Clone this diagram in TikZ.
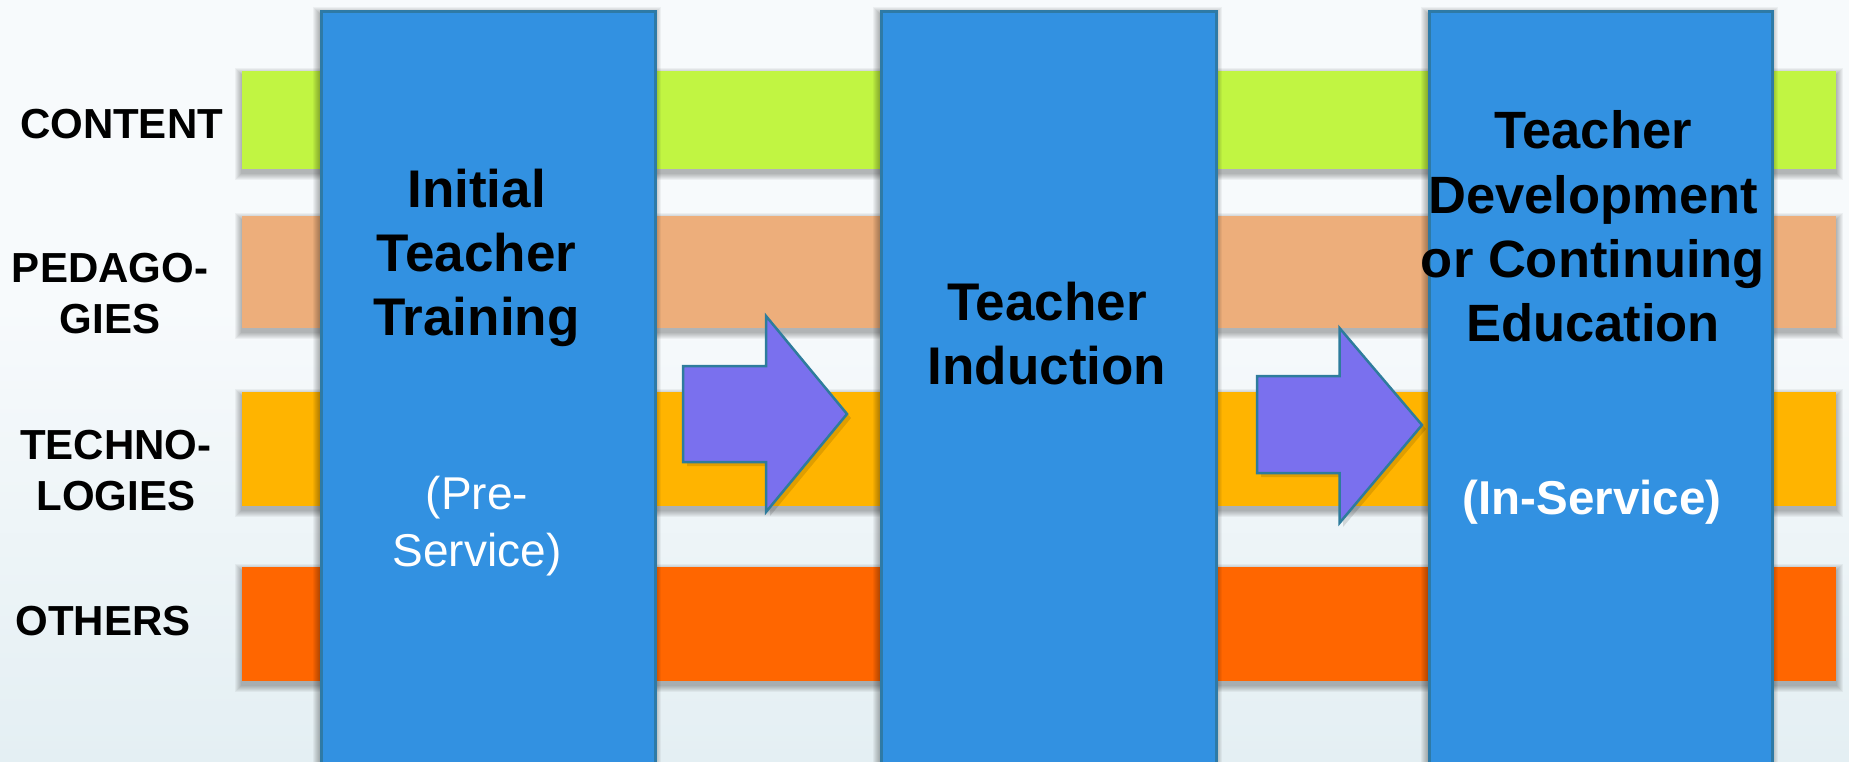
\documentclass[tikz,border=0pt]{standalone}
\usepackage{fontspec}
\setmainfont{Liberation Sans}
\definecolor{bgtop}{HTML}{F7FAFC}
\definecolor{bgmid}{HTML}{E4EFF3}
\definecolor{bgbot}{HTML}{BBDBE3}
\definecolor{cgreen}{HTML}{C1F542}
\definecolor{cpeach}{HTML}{EDAE7B}
\definecolor{cyellow}{HTML}{FFB400}
\definecolor{corange}{HTML}{FF6600}
\definecolor{cblue}{HTML}{3291E1}
\definecolor{cedge}{HTML}{2E7AA6}
\definecolor{carrow}{HTML}{7A70EE}
\definecolor{caedge}{HTML}{2E7C9C}
\pgfdeclareverticalshading{bgshade}{100bp}{color(0bp)=(bgbot); color(25bp)=(bgmid); color(55bp)=(bgtop); color(100bp)=(bgtop)}
\newcommand\softshadow[4]{%
  \foreach \k in {1,...,7}{\fill[black,opacity=0.045] ({#1-\k},{#2-\k+4}) rectangle ({#3+\k},{#4+\k+4});}}
\tikzset{
  band/.style={fill=#1, draw=none},
  phase/.style={fill=cblue, draw=cedge, line width=2.5pt, anchor=north west, inner sep=0pt},
  blockarrow/.style={fill=carrow, draw=caedge, line width=2.5pt, line join=miter},
  rowlabel/.style={anchor=north, inner sep=0pt, align=center, font=\fontsize{42}{50.5}\selectfont\bfseries},
  phasetitle/.style={anchor=north, inner sep=0pt, align=center, font=\fontsize{53}{63.8}\selectfont\bfseries},
  phasenote/.style={anchor=north, inner sep=0pt, align=center, text=white},
}
\begin{document}
\begin{tikzpicture}[x=1pt,y=-1pt]
\useasboundingbox (0,0) rectangle (1849,761);
\shade[shading=bgshade] (0,0) rectangle (1849,761);
% bands
\softshadow{242}{71}{1836}{169}
\softshadow{242}{216}{1836}{328}
\softshadow{242}{392}{1836}{506}
\softshadow{242}{567}{1836}{681}
\path[band=cgreen] (242,71) rectangle (1836,169);
\path[band=cpeach] (242,216) rectangle (1836,328);
\path[band=cyellow] (242,392) rectangle (1836,506);
\path[band=corange] (242,567) rectangle (1836,681);
% row labels
\node[rowlabel] (lcontent) at (121.5,109) {CONTENT};
\node[rowlabel] (lpeda) at (110,253) {PEDAGO-\\GIES};
\node[rowlabel] (ltech) at (115.7,430) {TECHNO-\\LOGIES};
\node[rowlabel] (lothers) at (103,606) {OTHERS};
% phase boxes
\softshadow{320}{10}{654}{780}
\softshadow{880}{10}{1215}{780}
\softshadow{1428}{10}{1771}{780}
\node[phase, minimum width=334pt, minimum height=770pt] (box1) at (320,10) {};
\node[phase, minimum width=335pt, minimum height=770pt] (box2) at (880,10) {};
\node[phase, minimum width=343pt, minimum height=770pt] (box3) at (1428,10) {};
% arrows
\begin{scope}
\fill[black,opacity=0.12] (687,370) -- (770,370) -- (770,320) -- (851,418) -- (770,516) -- (770,466) -- (687,466) -- cycle;
\fill[black,opacity=0.12] (1261,380) -- (1343,380) -- (1343,332) -- (1426,429) -- (1343,527) -- (1343,477) -- (1261,477) -- cycle;
\end{scope}
\draw[blockarrow] (683,366) -- (766,366) -- (766,316) -- (847,414) -- (766,512) -- (766,462) -- (683,462) -- cycle;
\draw[blockarrow] (1257,376) -- (1339.5,376) -- (1339.5,328) -- (1422,425) -- (1339.5,523) -- (1339.5,473) -- (1257,473) -- cycle;
% phase texts
\node[phasetitle] (t1) at (476.5,169) {Initial\\Teacher\\Training};
\node[phasenote, font=\fontsize{46}{57}\selectfont] (n1) at (477,476) {(Pre-\\Service)};
\node[phasetitle] (t2) at (1047,281.7) {Teacher\\Induction};
\node[phasetitle, font=\fontsize{52.5}{64.2}\selectfont\bfseries] (t3) at (1593,110.7) {Teacher\\Development\\or Continuing\\Education};
\node[phasenote, font=\fontsize{47.5}{57}\selectfont\bfseries] (n3) at (1592,480) {(In-Service)};
\end{tikzpicture}
\end{document}
